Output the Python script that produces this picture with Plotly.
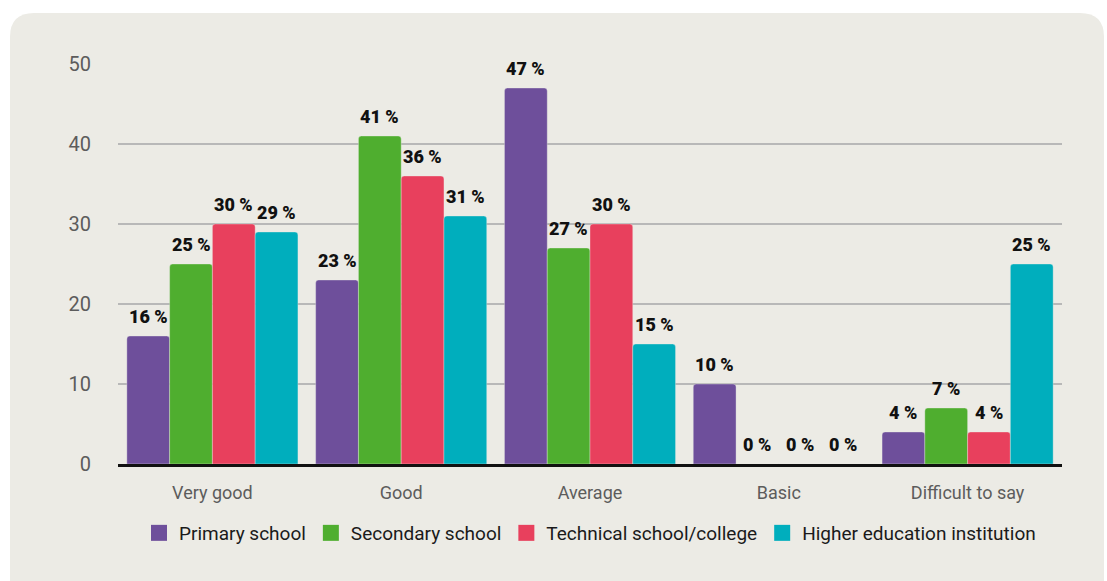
import plotly.graph_objects as go

# Survey results by type of educational institution (percent)
categories = ["Very good", "Good", "Average", "Basic", "Difficult to say"]
series_names = [
    "Primary school",
    "Secondary school",
    "Technical school/college",
    "Higher education institution",
]
primary = [16, 23, 47, 10, 4]
secondary = [25, 41, 27, 0, 7]
technical = [30, 36, 30, 0, 4]
higher = [29, 31, 15, 0, 25]
y_ticks = [0, 10, 20, 30, 40, 50]

series_values = [primary, secondary, technical, higher]
colors = ["#6E4F9B", "#4FAE2F", "#E8405D", "#00AEBD"]

PANEL = "#ECEBE5"
BARGAP = 0.094
FONT = "Roboto, Liberation Sans, sans-serif"

fig = go.Figure()

for name, vals, col in zip(series_names, series_values, colors):
    fig.add_trace(go.Bar(
        x=categories, y=vals, name=name,
        marker=dict(color=col, line=dict(color="rgba(236,235,229,0.6)", width=0.6),
                    cornerradius=3),
        showlegend=False, hoverinfo="skip",
    ))
    # legend swatch
    fig.add_trace(go.Scatter(
        x=[None], y=[None], mode="markers", name=name,
        marker=dict(symbol="square", size=19, color=col),
    ))

# value labels above each bar
bar_w = (1 - BARGAP) / len(series_values)
annotations = []
for j, vals in enumerate(series_values):
    for i, v in enumerate(vals):
        annotations.append(dict(
            x=i + (j - (len(series_values) - 1) / 2) * bar_w, y=v,
            xref="x", yref="y", text=f"{v} %", showarrow=False,
            yanchor="bottom", yshift=7,
            font=dict(family=FONT, size=18, color="#111111", weight=900),
        ))

# rounded background panel (paper coordinates)
L, R, T, B = -0.1144, 1.0445, 1.1275, -0.32
rx, ry = 24 / 944, 24 / 400
panel_path = (
    f"M {L+rx},{T} L {R-rx},{T} Q {R},{T} {R},{T-ry} "
    f"L {R},{B} L {L},{B} L {L},{T-ry} Q {L},{T} {L+rx},{T} Z"
)

fig.update_layout(
    width=1107, height=581,
    margin=dict(l=118, r=45, t=64, b=117),
    paper_bgcolor="white", plot_bgcolor=PANEL,
    barmode="group", bargap=BARGAP, bargroupgap=0,
    font=dict(family=FONT),
    shapes=[dict(type="path", path=panel_path, xref="paper", yref="paper",
                 fillcolor=PANEL, line=dict(width=0), layer="below")],
    annotations=annotations,
    legend=dict(
        orientation="h", x=0.5, xanchor="center", y=-0.1725, yanchor="middle",
        font=dict(family=FONT, size=19, color="#1a1a1a"),
        bgcolor="rgba(0,0,0,0)", itemwidth=30,
    ),
    xaxis=dict(
        showline=True, linecolor="#111111", linewidth=3,
        ticks="", ticklabelstandoff=10,
        tickfont=dict(family=FONT, size=18, color="#5c5c5c"),
        showgrid=False,
    ),
    yaxis=dict(
        range=[0, 50], tickvals=y_ticks,
        showgrid=True, gridcolor="#B8B8B8", gridwidth=1.5,
        zeroline=False, showline=False, ticks="", ticklabelstandoff=26,
        tickfont=dict(family=FONT, size=20, color="#5c5c5c"),
    ),
)

fig.write_html("out.html")
